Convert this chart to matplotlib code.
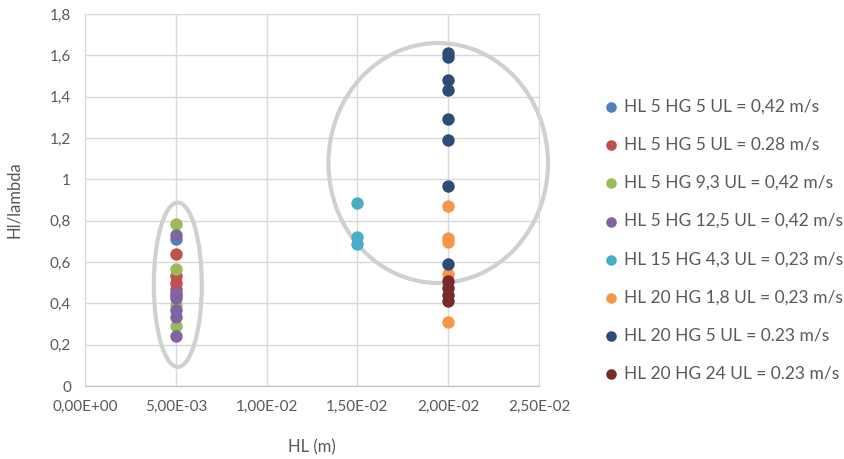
import matplotlib.pyplot as plt
from matplotlib.patches import Arc

# series: (label, colour, x, y values)
labels = [
    "HL 5 HG 5 UL = 0,42 m/s",
    "HL 5 HG 5 UL = 0.28 m/s",
    "HL 5 HG 9,3 UL = 0,42 m/s",
    "HL 5 HG 12,5 UL = 0,42 m/s",
    "HL 15 HG 4,3 UL = 0,23 m/s",
    "HL 20 HG 1,8 UL = 0,23 m/s",
    "HL 20 HG 5 UL = 0.23 m/s",
    "HL 20 HG 24 UL = 0.23 m/s",
]
colors = ["#4F81BD", "#C0504D", "#9BBB59", "#8064A2",
          "#4BACC6", "#F79646", "#2C4D75", "#772C2A"]
hl = [0.005, 0.005, 0.005, 0.005, 0.015, 0.02, 0.02, 0.02]
ratio = [
    [0.71],
    [0.64, 0.53, 0.50, 0.47, 0.44],
    [0.785, 0.565, 0.39, 0.29],
    [0.73, 0.45, 0.425, 0.37, 0.335, 0.24],
    [0.885, 0.72, 0.685],
    [0.87, 0.715, 0.695, 0.54, 0.31],
    [1.61, 1.59, 1.48, 1.43, 1.29, 1.19, 0.97, 0.59],
    [0.51, 0.475, 0.44, 0.41],
]

x_ticks = [0, 0.005, 0.01, 0.015, 0.02, 0.025]
x_labels = ["0,00E+00", "5,00E-03", "1,00E-02", "1,50E-02", "2,00E-02", "2,50E-02"]
y_ticks = [0, 0.2, 0.4, 0.6, 0.8, 1.0, 1.2, 1.4, 1.6, 1.8]
y_labels = ["0", "0,2", "0,4", "0,6", "0,8", "1", "1,2", "1,4", "1,6", "1,8"]

plt.rcParams["font.family"] = ["Lato", "DejaVu Sans"]
txt = "#595959"
grid = "#D9D9D9"

fig = plt.figure(figsize=(8.45, 4.59), dpi=100)
ax = fig.add_axes([85/845, 1-386/459, 454/845, 372/459])

for lab, c, x, ys in zip(labels, colors, hl, ratio):
    ax.scatter([x]*len(ys), ys, s=80, color=c, label=lab, zorder=3, linewidths=0)

# highlight ellipses (with the small gap on the right side)
ax.add_patch(Arc((0.00511, 0.49), 0.00264, 0.795, theta1=3, theta2=357,
                 color="#D0D0D0", lw=3, zorder=2, clip_on=False))
ax.add_patch(Arc((0.01945, 1.079), 0.01209, 1.161, theta1=1.5, theta2=358.5,
                 color="#D0D0D0", lw=3, zorder=2, clip_on=False))

ax.set_xlim(0, 0.025)
ax.set_ylim(0, 1.8)
ax.set_xticks(x_ticks)
ax.set_xticklabels(x_labels)
ax.set_yticks(y_ticks)
ax.set_yticklabels(y_labels)
ax.tick_params(length=0, colors=txt, labelsize=11, pad=10)
ax.grid(True, color=grid, lw=1, zorder=0)
for s in ax.spines.values():
    s.set_color(grid)
ax.spines["bottom"].set_color("#BFBFBF")
ax.set_xlabel("HL (m)", color=txt, fontsize=12, labelpad=18)
ax.set_ylabel("Hl/lambda", color=txt, fontsize=12, labelpad=20)

fig.legend(loc="upper left", bbox_to_anchor=(594/845, 1-92/459), frameon=False,
           fontsize=12.5, labelcolor=txt, handletextpad=0.1, labelspacing=1.27,
           markerscale=0.85, borderaxespad=0, handlelength=1.2)

fig.savefig("out.png", dpi=100)
